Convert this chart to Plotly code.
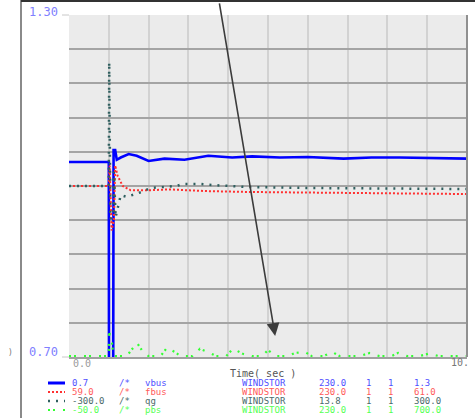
import plotly.graph_objects as go

# ---------------- data ----------------
time_vbus = [0, 1.0, 1.005, 1.11, 1.12, 1.16, 1.2, 1.3, 1.5, 1.7, 2.0, 2.4, 2.9, 3.5, 4.1, 4.6, 5.3, 6.0, 6.9, 7.6, 8.3, 9.2, 10]
vbus = [1.042, 1.042, 0.66, 0.66, 1.063, 1.063, 1.046, 1.050, 1.056, 1.053, 1.044, 1.048, 1.046, 1.053, 1.050, 1.052, 1.050, 1.051, 1.048, 1.050, 1.050, 1.049, 1.048]

time_fbus = [0, 1.0, 1.02, 1.07, 1.13, 1.16, 1.22, 1.35, 1.55, 2.0, 2.5, 3.5, 4.5, 6.0, 8.0, 10]
fbus = [60.0, 60.0, 60.12, 59.74, 59.80, 60.12, 60.06, 60.0, 59.975, 59.975, 59.98, 59.97, 59.965, 59.962, 59.958, 59.953]

time_qg = [0, 1.0, 1.01, 1.04, 1.12, 1.13, 1.17, 1.3, 1.45, 1.65, 1.85, 2.05, 2.3, 2.7, 2.85, 3.3, 3.6, 4.1, 4.5, 6.0, 8.0, 10]
qg = [0, 0, 217, -58, -50, 25, -55, -16, -19, -14, -10, -3.5, -1.8, 0, 3.5, 3.5, 1.8, 0, -1.8, -3.5, -4.5, -5.3]

time_pbs = [0, 1.0, 1.01, 1.04, 1.08, 1.12, 1.2, 1.45, 1.53, 1.71, 1.86, 2.0, 2.3, 2.46, 2.66, 2.8, 3.1, 3.29, 3.54, 3.7,
            3.95, 4.12, 4.37, 4.6, 4.85, 5.0, 5.2, 5.5, 5.68, 5.93, 6.1, 6.4, 6.61, 6.8, 7.3, 7.56, 7.8, 8.1, 8.27,
            8.5, 8.8, 9.02, 9.3, 10]
pbs = [-48, -48, 5, -8, -20, -48, -48, -48, -39, -19, -39, -48, -48, -30, -39, -48, -48, -32, -41, -48,
       -48, -32, -43, -48, -48, -35, -48, -48, -41, -39, -48, -48, -39, -48, -48, -41, -48, -48, -41,
       -48, -48, -43, -48, -48]

channel_labels = ["vbus", "fbus", "qg", "pbs"]
channel_min = ["0.7", "59.0", "-300.0", "-50.0"]
channel_max = ["1.3", "61.0", "300.0", "700.0"]
channel_kv = ["230.0", "230.0", "13.8", "230.0"]
channel_bus = ["WINDSTOR", "WINDSTOR", "WINDSTOR", "WINDSTOR"]

y_ticks_text = ["1.30", "0.70"]
x_ticks_text = ["0.0", "10."]
x_title = "Time( sec )"

# ---------------- styling ----------------
W, H = 475, 418
L, R, T, B = 69, 467, 15, 357
colors = ["#0000ff", "#ff3030", "#2f5f5f", "#33ff33"]
text_colors = ["#5050ff", "#ff5a5a", "#4a6a6a", "#55ff55"]
MONO = "DejaVu Sans Mono, Liberation Mono, monospace"


def xp(px):
    return (px - L) / (R - L)


def yp(py):
    return (B - py) / (B - T)


fig = go.Figure()
fig.add_trace(go.Scatter(x=time_fbus, y=fbus, mode="lines", yaxis="y2",
                         line=dict(color=colors[1], width=2, dash="2px,2px")))
fig.add_trace(go.Scatter(x=time_qg, y=qg, mode="lines", yaxis="y3",
                         line=dict(color=colors[2], width=2.5, dash="2px,6px")))
fig.add_trace(go.Scatter(x=time_pbs, y=pbs, mode="lines", yaxis="y4",
                         line=dict(color=colors[3], width=2.2, dash="2px,3px,2px,8px")))
fig.add_trace(go.Scatter(x=time_vbus, y=vbus, mode="lines", yaxis="y",
                         line=dict(color=colors[0], width=2.6)))

shapes = []
# outer frame
shapes.append(dict(type="line", xref="paper", yref="paper", x0=xp(21), x1=xp(21), y0=yp(0), y1=yp(418),
                   line=dict(color="#8a8a8a", width=2)))
shapes.append(dict(type="line", xref="paper", yref="paper", x0=xp(21), x1=xp(475), y0=yp(1), y1=yp(1),
                   line=dict(color="#333333", width=2)))
# plot right border
shapes.append(dict(type="line", xref="paper", yref="paper", x0=1, x1=1, y0=0, y1=1,
                   line=dict(color="#909090", width=2)))
# small ticks near y labels
for py in (T, B):
    shapes.append(dict(type="line", xref="paper", yref="paper", x0=xp(62), x1=xp(69), y0=yp(py), y1=yp(py),
                       line=dict(color="#c8c8c8", width=1)))

# legend line samples
rows_y = [383, 392, 401, 410]
sample_dash = ["solid", "2px,2px", "2px,6px", "2px,3px,2px,8px"]
sample_w = [3, 2, 2.5, 2.2]
for i in range(4):
    shapes.append(dict(type="line", xref="paper", yref="paper", x0=xp(48), x1=xp(65),
                       y0=yp(rows_y[i]), y1=yp(rows_y[i]),
                       line=dict(color=colors[i], width=sample_w[i], dash=sample_dash[i])))

annotations = []


def txt(s, px, py, color, size=9, anchor="left"):
    annotations.append(dict(text=s, xref="paper", yref="paper", x=xp(px), y=yp(py),
                            xanchor=anchor, yanchor="middle", showarrow=False,
                            font=dict(family=MONO, size=size, color=color)))


txt(y_ticks_text[0], 27, 12, "#8080ff", size=12)
txt(y_ticks_text[1], 27, 352, "#8080ff", size=12)
txt(x_ticks_text[0], 71, 364, "#9a9a9a", size=10)
txt(x_ticks_text[1], 471, 362, "#777777", size=10, anchor="right")
txt(x_title, 228, 373, "#555555", size=10)
txt(")", 6, 352, "#777777", size=8)

for i in range(4):
    c = text_colors[i]
    y = rows_y[i]
    txt(channel_min[i], 70, y, c)
    txt("/*", 117, y, c)
    txt(channel_labels[i], 143, y, c)
    txt(channel_bus[i], 240, y, c)
    txt(channel_kv[i], 317, y, c)
    txt("1", 364, y, c)
    txt("1", 386, y, c)
    txt(channel_max[i], 412, y, c)

# annotation arrow
annotations.append(dict(x=5.18, y=0.737, xref="x", yref="y", ax=-56, ay=-334, axref="pixel", ayref="pixel",
                        text="", showarrow=True, arrowhead=2, arrowsize=1.6, arrowwidth=1.6,
                        arrowcolor="#3c3c3c"))

fig.update_layout(
    width=W, height=H,
    margin=dict(l=L, r=W - R, t=T, b=H - B, pad=0),
    paper_bgcolor="white", plot_bgcolor="#ebebeb",
    showlegend=False,
    xaxis=dict(range=[0, 10], dtick=1, tick0=0, showticklabels=False, ticks="",
               showgrid=True, gridcolor="#d2d2d2", gridwidth=1.5, zeroline=False,
               showline=True, linecolor="#a0a0a0", linewidth=2),
    yaxis=dict(range=[0.7, 1.3], dtick=0.06, tick0=0.7, showticklabels=False, ticks="",
               showgrid=True, gridcolor="#a4a4a4", gridwidth=1.5, zeroline=False),
    yaxis2=dict(range=[59, 61], overlaying="y", visible=False),
    yaxis3=dict(range=[-300, 300], overlaying="y", visible=False),
    yaxis4=dict(range=[-50, 700], overlaying="y", visible=False),
    shapes=shapes,
    annotations=annotations,
)

fig.write_html("out.html", config={"displayModeBar": False},
               post_script="document.body.style.margin='0';document.body.style.overflow='hidden';")
